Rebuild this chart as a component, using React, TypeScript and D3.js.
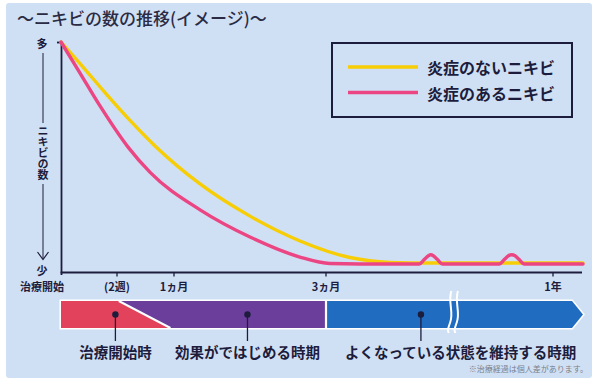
import React from "react";
import * as d3 from "d3";

const W = 600;
const H = 381;

// x positions are days since treatment start (illustrative, non-linear axis)
const tickDays = [0, 14, 30, 90, 365, 400];
const tickLabels = ["治療開始", "(2週)", "1ヵ月", "3ヵ月", "1年"];

const seriesNames = ["炎症のないニキビ", "炎症のあるニキビ"];
const seriesColors = ["#f7cd06", "#ec4583"];

// level 0 (少) .. 100 (多)
const noInflamDays = [0, 4.75, 11, 17.65, 24.67, 40.26, 60, 79.74, 119.1, 167.5, 216, 400];
const noInflamLevel = [100, 90.65, 78.0, 65.9, 54.8, 38.3, 24.3, 13.5, 6.3, 4.2, 3.9, 3.9];

const inflamDays = [0, 4.75, 9.75, 17.1, 23.3, 40.3, 60, 79.7, 94.8, 131, 203, 209, 214, 217, 220, 225, 231, 300, 306, 311, 315, 319, 324, 330, 400];
const inflamLevel = [100, 86.5, 72.2, 54.3, 43.3, 27.0, 15.2, 6.5, 3.7, 3.5, 3.5, 5.4, 7.1, 7.5, 7.1, 5.4, 3.5, 3.5, 5.4, 7.1, 7.5, 7.1, 5.4, 3.5, 3.5];

const phaseLabels = ["治療開始時", "効果がではじめる時期", "よくなっている状態を維持する時期"];
const phaseColors = ["#e2425b", "#6b3e9c", "#1f6cc1"];
const phaseDotDays = [13.6, 59, 205];
const phaseLabelDays = [13.6, 59, 253];
const breakDays = [240, 248];

const title = "～ニキビの数の推移(イメージ)～";
const yTop = "多";
const yBottom = "少";
const yTitle = "ニキビの数";
const footnote = "※治療経過は個人差があります。";

const FONT = "'Noto Sans CJK JP', 'Noto Sans', sans-serif";
const INK = "#1c1c3c";

export default function App() {
  const x = d3.scaleLinear().domain(tickDays).range([61, 117, 174, 326, 553, 583]);
  const y = d3.scaleLinear().domain([0, 100]).range([272, 42]);

  const line = d3
    .line<[number, number]>()
    .x((d) => x(d[0]))
    .y((d) => y(d[1]))
    .curve(d3.curveMonotoneX);

  const yellowPts = noInflamDays.map((d, i) => [d, noInflamLevel[i]] as [number, number]);
  const pinkPts = inflamDays.map((d, i) => [d, inflamLevel[i]] as [number, number]);

  const barTop = 301;
  const barBot = 328;
  const barMid = (barTop + barBot) / 2;
  const x0 = x(0);
  const xSlTop = x(14.5);
  const xSlBot = x(29);
  const x3m = x(90);
  const xEnd = x(400);
  const xBody = xEnd - 11;

  const redPath = `M${x0},${barTop}L${xSlTop},${barTop}L${xSlBot},${barBot}L${x0},${barBot}Z`;
  const purplePath = `M${xSlTop},${barTop}L${x3m},${barTop}L${x3m},${barBot}L${xSlBot},${barBot}Z`;
  const bluePath = `M${x3m},${barTop}L${xBody},${barTop}L${xEnd},${barMid}L${xBody},${barBot}L${x3m},${barBot}Z`;
  const outline = `M${x0},${barTop}L${xBody},${barTop}L${xEnd},${barMid}L${xBody},${barBot}L${x0},${barBot}Z`;

  return (
    <div style={{ position: "fixed", left: 0, top: 0, width: W, height: H, background: "#fff" }}>
      <svg width={W} height={H} style={{ display: "block", fontFamily: FONT }}>
        <rect x={6} y={3} width={586} height={375} rx={3} fill="#d0e0f4" />
        <text x={17} y={25} fontSize={17} fill="#2b2b44" fontWeight={500}>
          {title}
        </text>

        {/* Y axis labels */}
        <text x={42} y={48} fontSize={11} fontWeight={700} fill={INK} textAnchor="middle">
          {yTop}
        </text>
        <text x={42} y={275} fontSize={11} fontWeight={700} fill={INK} textAnchor="middle">
          {yBottom}
        </text>
        <line x1={43} x2={43} y1={53} y2={123} stroke={INK} strokeWidth={1} />
        <line x1={43} x2={43} y1={184} y2={259} stroke={INK} strokeWidth={1} />
        <path d="M37.5,252L43,259.5L48.5,252" fill="none" stroke={INK} strokeWidth={1.2} />
        <text
          x={43}
          y={153}
          fontSize={11}
          fontWeight={700}
          fill={INK}
          textAnchor="middle"
          style={{ writingMode: "vertical-rl" } as any}
        >
          {yTitle}
        </text>

        {/* axes */}
        <line x1={57} x2={61.5} y1={42.5} y2={42.5} stroke={INK} strokeWidth={1.8} />
        <line x1={61.5} x2={61.5} y1={41.6} y2={275} stroke={INK} strokeWidth={1.8} />
        <line x1={60.6} x2={582} y1={272.5} y2={272.5} stroke={INK} strokeWidth={1.8} />
        {tickLabels.map((t, i) => (
          <g key={t}>
            {i > 0 && <line x1={x(tickDays[i])} x2={x(tickDays[i])} y1={272} y2={276.5} stroke={INK} strokeWidth={1.3} />}
            <text
              x={i === 0 ? x(tickDays[i]) + 3 : x(tickDays[i])}
              y={291}
              fontSize={11}
              fontWeight={700}
              fill={INK}
              textAnchor={i === 0 ? "end" : "middle"}
            >
              {t}
            </text>
          </g>
        ))}

        {/* curves */}
        <path d={line(yellowPts) || ""} fill="none" stroke={seriesColors[0]} strokeWidth={3.4} strokeLinecap="round" />
        <path d={line(pinkPts) || ""} fill="none" stroke={seriesColors[1]} strokeWidth={3.4} strokeLinecap="round" />

        {/* legend */}
        <rect x={332} y={43} width={240} height={74} fill="none" stroke={INK} strokeWidth={2} />
        {seriesNames.map((s, i) => (
          <g key={s}>
            <line x1={348} x2={418} y1={67 + i * 25.5} y2={67 + i * 25.5} stroke={seriesColors[i]} strokeWidth={3.4} />
            <text x={427} y={73.5 + i * 26.5} fontSize={16} fontWeight={700} fill={INK}>
              {s}
            </text>
          </g>
        ))}

        {/* phase bar */}
        <path d={outline} fill="#fff" stroke="#fff" strokeWidth={3} strokeLinejoin="miter" />
        <path d={redPath} fill={phaseColors[0]} />
        <path d={purplePath} fill={phaseColors[1]} />
        <path d={bluePath} fill={phaseColors[2]} />
        <line x1={xSlTop} y1={barTop} x2={xSlBot} y2={barBot} stroke="#fff" strokeWidth={2} />
        <line x1={x3m} y1={barTop} x2={x3m} y2={barBot} stroke="#fff" strokeWidth={2.2} />
        {breakDays.map((d, i) => {
          const bx = x(d);
          return (
            <path
              key={i}
              d={`M${bx + 1.5},291 C${bx - 2},302 ${bx + 4},312 ${bx + 0.5},322 S${bx - 2},330 ${bx - 1},333`}
              fill="none"
              stroke="#fff"
              strokeWidth={2}
            />
          );
        })}

        {phaseLabels.map((p, i) => (
          <g key={p}>
            <line x1={x(phaseDotDays[i])} x2={x(phaseDotDays[i])} y1={barMid} y2={341} stroke={INK} strokeWidth={1.3} />
            <circle cx={x(phaseDotDays[i])} cy={barMid} r={3.2} fill={INK} />
            <text x={x(phaseLabelDays[i])} y={358} fontSize={14.5} fontWeight={700} fill={INK} textAnchor="middle">
              {p}
            </text>
          </g>
        ))}

        <text x={588} y={372} fontSize={8} fill="#7a7f8a" textAnchor="end">
          {footnote}
        </text>
      </svg>
    </div>
  );
}
